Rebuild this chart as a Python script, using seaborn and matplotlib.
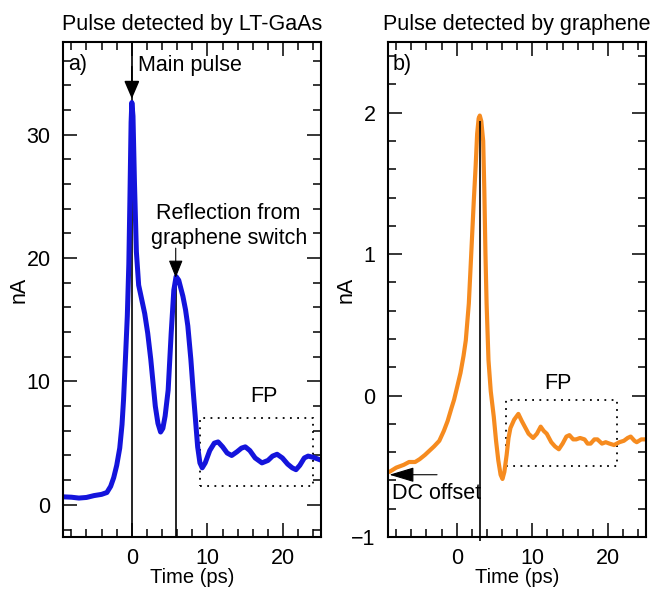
import numpy as np
import pandas as pd
import seaborn as sns
import matplotlib.pyplot as plt
from matplotlib.ticker import MultipleLocator

# datos: tiempo (ps) y corriente (nA)
t_gaas = [-9.1, -8.0, -7.0, -6.0, -5.0, -4.0, -3.3, -2.8, -2.4, -2.0, -1.6, -1.3, -1.1, -0.85,
          -0.6, -0.4, -0.25, -0.1, 0.0, 0.15, 0.35, 0.6, 0.9, 1.25, 1.7, 2.1, 2.5, 2.8, 3.1,
          3.45, 3.8, 4.1, 4.4, 4.8, 5.2, 5.55, 5.85, 6.2, 6.75, 7.1, 7.4, 7.8, 8.1, 8.4, 8.7,
          9.0, 9.3, 9.7, 10.3, 10.9, 11.4, 12.0, 12.6, 13.2, 13.9, 14.5, 15.0, 15.6, 16.3,
          17.2, 18.0, 18.6, 19.2, 19.9, 20.6, 21.2, 21.7, 22.2, 22.8, 23.3, 24.0, 25.1]
i_gaas = [0.65, 0.62, 0.55, 0.6, 0.75, 0.85, 1.0, 1.5, 2.2, 3.2, 4.6, 6.5, 8.5, 11.8,
          15.3, 19.5, 25.0, 31.0, 32.6, 31.5, 26.0, 20.5, 17.8, 16.8, 15.5, 13.9, 11.8, 9.9, 8.0,
          6.6, 5.9, 6.2, 7.2, 9.3, 13.9, 17.4, 18.5, 18.2, 16.9, 15.8, 14.5, 11.8, 9.3, 7.0, 4.7,
          3.4, 3.0, 3.4, 4.4, 5.0, 5.1, 4.7, 4.2, 4.0, 4.3, 4.6, 4.7, 4.4, 3.8,
          3.4, 3.6, 3.95, 4.1, 3.8, 3.3, 3.0, 2.85, 3.2, 3.8, 3.95, 3.85, 3.6]

t_gr = [-8.9, -8.0, -7.0, -6.3, -5.5, -4.9, -4.2, -3.6, -3.0, -2.3, -1.7, -1.2, -0.7, -0.35,
        0.1, 0.5, 0.9, 1.2, 1.6, 1.9, 2.26, 2.5, 2.7, 2.9, 3.05, 3.25, 3.5, 3.65, 3.8, 3.95,
        4.2, 4.5, 4.9, 5.2, 5.5, 5.8, 6.05, 6.3, 6.6, 6.85, 7.1, 7.6, 8.15, 8.6, 9.0, 9.5,
        10.1, 10.6, 11.1, 11.5, 11.9, 12.5, 13.0, 13.5, 14.0, 14.5, 14.9, 15.4, 15.8, 16.3,
        16.9, 17.3, 17.7, 18.2, 18.6, 19.2, 19.7, 20.2, 20.8, 21.5, 22.1, 22.6, 23.0, 23.5,
        23.8, 24.4, 25.2]
i_gr = [-0.54, -0.51, -0.49, -0.47, -0.47, -0.45, -0.42, -0.39, -0.36, -0.32, -0.25, -0.18, -0.09, -0.03,
        0.07, 0.16, 0.28, 0.39, 0.65, 0.98, 1.38, 1.62, 1.85, 1.96, 1.98, 1.94, 1.80, 1.45, 1.0, 0.65,
        0.25, 0.03, -0.15, -0.32, -0.46, -0.56, -0.59, -0.54, -0.42, -0.3, -0.23, -0.17, -0.13, -0.18, -0.22, -0.27,
        -0.3, -0.27, -0.22, -0.25, -0.27, -0.33, -0.36, -0.38, -0.34, -0.29, -0.28, -0.31, -0.31, -0.3,
        -0.31, -0.34, -0.34, -0.31, -0.31, -0.34, -0.33, -0.34, -0.35, -0.33, -0.32, -0.3, -0.29, -0.32,
        -0.33, -0.31, -0.31]

titulos = ['Pulse detected by LT-GaAs', 'Pulse detected by graphene']

df_a = pd.DataFrame({'t': t_gaas, 'i': i_gaas})
df_b = pd.DataFrame({'t': t_gr, 'i': i_gr})

sns.set_style('ticks')
plt.rcParams['font.family'] = ['Liberation Sans', 'DejaVu Sans']
plt.rcParams['font.size'] = 15.5
plt.rcParams['text.color'] = 'black'
plt.rcParams['axes.labelcolor'] = 'black'
plt.rcParams['xtick.color'] = 'black'
plt.rcParams['ytick.color'] = 'black'

fig = plt.figure(figsize=(6.53, 5.92), dpi=100)
ax1 = fig.add_axes([0.0965, 0.093, 0.395, 0.836])
ax2 = fig.add_axes([0.594, 0.093, 0.395, 0.836])

sns.lineplot(data=df_a, x='t', y='i', ax=ax1, color='#1414dc', linewidth=3.6, estimator=None, sort=False)
sns.lineplot(data=df_b, x='t', y='i', ax=ax2, color='#f68b1f', linewidth=3.0, estimator=None, sort=False)

for ax, tit in zip([ax1, ax2], titulos):
    ax.set_xlim(-9.1, 25)
    ax.set_xlabel('Time (ps)', fontsize=14.5, labelpad=-1)
    ax.set_ylabel('nA')
    ax.set_title(tit, fontsize=15.5, pad=9)
    ax.xaxis.set_major_locator(MultipleLocator(10))
    ax.xaxis.set_minor_locator(MultipleLocator(2))
    ax.tick_params(which='both', direction='in', top=True, right=True, width=1.1, color='black',
                   labelsize=15.5, labelcolor='black')
    ax.tick_params(which='major', length=10)
    ax.tick_params(which='minor', length=5.5)
    ax.tick_params(axis='x', pad=8)
    ax.tick_params(axis='y', pad=9)
    for s in ax.spines.values():
        s.set_linewidth(1.5)
        s.set_color('black')

# panel a
ax1.set_ylim(-2.6, 37.5)
ax1.yaxis.set_major_locator(MultipleLocator(10))
ax1.yaxis.set_minor_locator(MultipleLocator(2))
ax1.yaxis.set_label_coords(-0.13, 0.5)
ax1.text(0.02, 0.975, 'a)', transform=ax1.transAxes, va='top', ha='left')
ax1.axvline(0, color='black', linewidth=1.2, zorder=1)
ax1.annotate('', xy=(0, 32.9), xytext=(0, 35.5),
             arrowprops=dict(arrowstyle='-|>,head_length=0.7,head_width=0.3', color='black',
                             lw=1.2, shrinkA=0, shrinkB=0))
ax1.text(0.8, 35.6, 'Main pulse', va='center', ha='left')
ax1.vlines(5.8, -2.6, 18.4, color='black', linewidth=1.2, zorder=1)
ax1.annotate('', xy=(5.8, 18.4), xytext=(5.8, 20.8),
             arrowprops=dict(arrowstyle='-|>,head_length=0.7,head_width=0.28', color='black',
                             lw=0.8, shrinkA=0, shrinkB=0))
ax1.text(12.8, 22.6, 'Reflection from\ngraphene switch', va='center', ha='center', linespacing=1.25)
ax1.add_patch(plt.Rectangle((9.0, 1.5), 14.9, 5.5, fill=False, linestyle=(0, (1, 3)),
                            linewidth=1.3, edgecolor='black'))
ax1.text(17.4, 8.8, 'FP', va='center', ha='center')

# panel b
ax2.set_ylim(-1, 2.5)
ax2.yaxis.set_major_locator(MultipleLocator(1))
ax2.yaxis.set_minor_locator(MultipleLocator(0.2))
ax2.yaxis.set_label_coords(-0.12, 0.5)
ax2.text(0.02, 0.975, 'b)', transform=ax2.transAxes, va='top', ha='left')
ax2.vlines(3.1, -1.03, 1.94, color='black', linewidth=1.2, zorder=3, clip_on=False)
ax2.add_patch(plt.Rectangle((6.5, -0.5), 14.7, 0.47, fill=False, linestyle=(0, (1, 3)),
                            linewidth=1.3, edgecolor='black'))
ax2.text(13.4, 0.085, 'FP', va='center', ha='center')
ax2.annotate('', xy=(-8.9, -0.56), xytext=(-2.6, -0.56),
             arrowprops=dict(arrowstyle='-|>,head_length=1.0,head_width=0.3', color='black',
                             lw=0.8, shrinkA=0, shrinkB=0))
ax2.text(-8.6, -0.69, 'DC offset', va='center', ha='left')

fig.savefig('out.png', dpi=100)
